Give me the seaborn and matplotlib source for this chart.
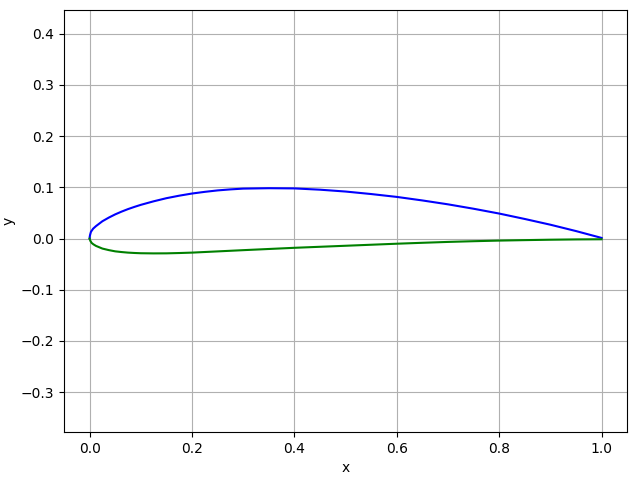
import matplotlib
matplotlib.use("Agg")
import matplotlib.pyplot as plt
import seaborn as sns
import pandas as pd

# Upper surface (NACA 4412-like section)
x_upper = [0.0, 0.0003, 0.0010, 0.0026, 0.0070, 0.0125, 0.025, 0.0375, 0.05, 0.0625,
           0.075, 0.0875, 0.10, 0.125, 0.15, 0.175, 0.20, 0.225, 0.25, 0.275, 0.30,
           0.35, 0.40, 0.45, 0.50, 0.55, 0.60, 0.65, 0.70, 0.75, 0.80, 0.85, 0.90,
           0.95, 1.00]
y_upper = [0.0, 0.0040, 0.0075, 0.0132, 0.0195, 0.0244, 0.0339, 0.0410, 0.0473, 0.0527,
           0.0576, 0.0619, 0.0659, 0.0728, 0.0789, 0.0838, 0.0880, 0.0913, 0.0941,
           0.0961, 0.0976, 0.0984, 0.0980, 0.0955, 0.0919, 0.0870, 0.0814, 0.0745,
           0.0669, 0.0583, 0.0489, 0.0383, 0.0271, 0.0147, 0.0013]

# Lower surface
x_lower = [0.0, 0.0015, 0.0040, 0.0074, 0.0125, 0.025, 0.0375, 0.05, 0.0625, 0.075,
           0.0875, 0.10, 0.125, 0.15, 0.175, 0.20, 0.25, 0.30, 0.35, 0.40, 0.45, 0.50,
           0.55, 0.60, 0.65, 0.70, 0.75, 0.80, 0.85, 0.90, 0.95, 1.00]
y_lower = [0.0, -0.0045, -0.0085, -0.0112, -0.0143, -0.0195, -0.0225, -0.0249, -0.0263,
           -0.0274, -0.0281, -0.0286, -0.0289, -0.0288, -0.0282, -0.0274, -0.0250,
           -0.0226, -0.0203, -0.0180, -0.0160, -0.0140, -0.0120, -0.0100, -0.0082,
           -0.0065, -0.0051, -0.0039, -0.0030, -0.0022, -0.0016, -0.0013]

upper = pd.DataFrame({"x": x_upper, "y": y_upper})
lower = pd.DataFrame({"x": x_lower, "y": y_lower})

fig, ax = plt.subplots(figsize=(6.4, 4.8), dpi=100)
fig.subplots_adjust(left=0.1, right=0.98, top=0.98, bottom=0.1)
sns.lineplot(data=upper, x="x", y="y", sort=False, color="b", ax=ax)
sns.lineplot(data=lower, x="x", y="y", sort=False, color="g", ax=ax)
ax.set_xlabel("x")
ax.set_ylabel("y")
ax.grid(True)
ax.axis("equal")
fig.savefig("out.png")
